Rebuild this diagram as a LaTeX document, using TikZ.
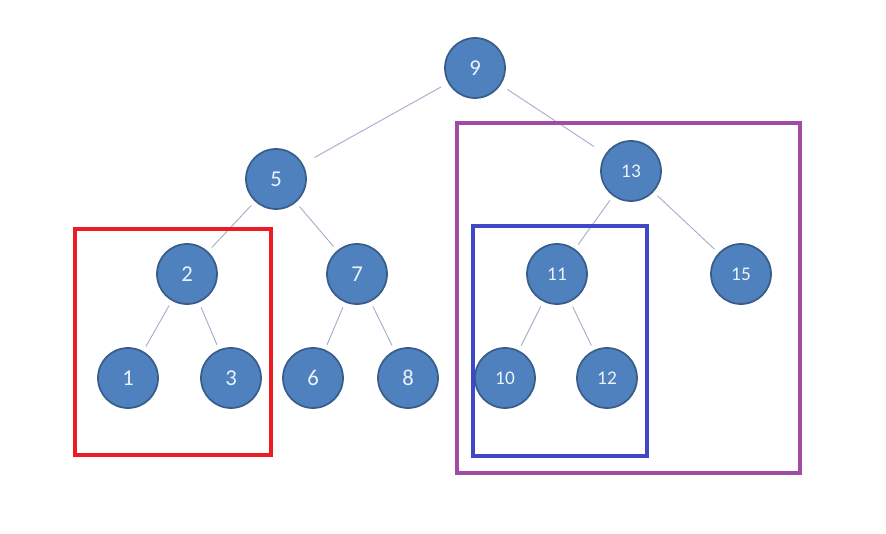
\documentclass[tikz,border=0pt]{standalone}
\usepackage{fontspec}
\setmainfont{Carlito}
\definecolor{KeyFill}{RGB}{79,129,190}
\definecolor{KeyRim}{RGB}{56,93,138}
\definecolor{KeyText}{RGB}{236,242,250}
\definecolor{LinkGray}{RGB}{165,174,205}
\definecolor{BoxRed}{RGB}{237,28,36}
\definecolor{BoxPurple}{RGB}{160,75,165}
\definecolor{BoxBlue}{RGB}{65,72,200}

\begin{document}
\begin{tikzpicture}[x=0.75pt, y=-0.75pt,
		key/.style={circle, draw=KeyRim, line width=1.3pt, fill=KeyFill,
			minimum size=45pt, inner sep=0pt, text=KeyText,
			font=\fontsize{17}{19}\selectfont},
		bigkey/.style={key, font=\fontsize{14.5}{16}\selectfont},
		link/.style={LinkGray, line width=0.7pt, shorten <=4pt, shorten >=4pt},
		rootlink/.style={link, shorten <=6pt, shorten >=10pt},
		frame/.style={line width=3pt}]
		\useasboundingbox (0,0) rectangle (886,534);
		% keys, top to bottom
		\node[key] (k9) at (475,68) {9};
		\node[key] (k5) at (276,179) {5};
		\node[bigkey] (k13) at (631,171) {13};
		\node[key] (k2) at (187,274) {2};
		\node[key] (k7) at (357,274) {7};
		\node[bigkey] (k11) at (557,274) {11};
		\node[bigkey] (k15) at (741,274) {15};
		\node[key] (k1) at (128,378) {1};
		\node[key] (k3) at (231,378) {3};
		\node[key] (k6) at (313,378) {6};
		\node[key] (k8) at (408,378) {8};
		\node[bigkey] (k10) at (505,378) {10};
		\node[bigkey] (k12) at (607,378) {12};
		% links
		\draw[rootlink] (k9) -- (k5);
		\draw[rootlink] (k9) -- (k13);
		\draw[link] (k5) -- (k2);
		\draw[link] (k5) -- (k7);
		\draw[link] (k2) -- (k1);
		\draw[link] (k2) -- (k3);
		\draw[link] (k7) -- (k6);
		\draw[link] (k7) -- (k8);
		\draw[link] (k13) -- (k11);
		\draw[link] (k13) -- (k15);
		\draw[link] (k11) -- (k10);
		\draw[link] (k11) -- (k12);
		% subtree frames
		\draw[frame, BoxRed] (75,229) rectangle (271,455);
		\draw[frame, BoxPurple] (457,123) rectangle (800,473);
		\draw[frame, BoxBlue] (473,226) rectangle (647,456);
	\end{tikzpicture}
\end{document}
